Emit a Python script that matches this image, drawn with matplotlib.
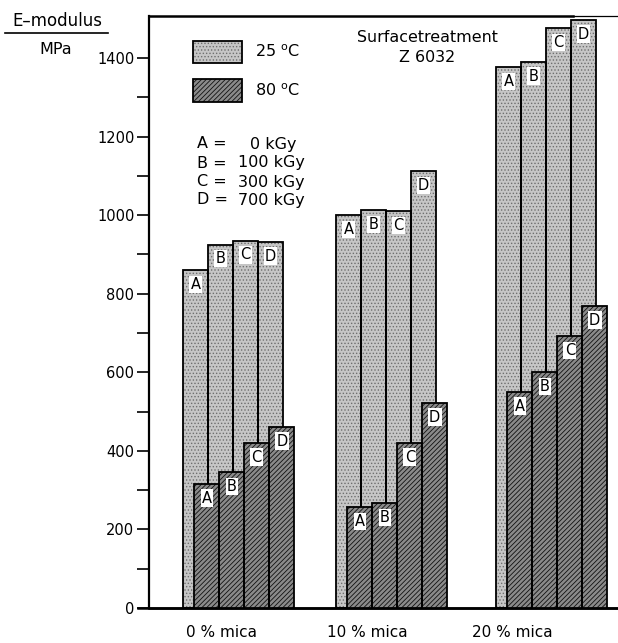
import matplotlib
matplotlib.use("Agg")
import matplotlib.pyplot as plt
from matplotlib.patches import Rectangle
from matplotlib.lines import Line2D

plt.rcParams['font.family'] = ['DejaVu Sans']
plt.rcParams['hatch.linewidth'] = 0.6

# ---- data ----
categories = ["0 % mica", "10 % mica", "20 % mica"]
doses = ["A", "B", "C", "D"]
dose_names = ["A =", "B =", "C =", "D ="]
dose_values = ["0 kGy", "100 kGy", "300 kGy", "700 kGy"]
e25 = [[860, 925, 935, 932],
       [1000, 1012, 1010, 1112],
       [1377, 1390, 1476, 1497]]
e80 = [[316, 346, 420, 461],
       [257, 267, 420, 522],
       [550, 600, 692, 769]]
yticks_major = [0, 200, 400, 600, 800, 1000, 1200, 1400]

W, H = 618, 643
fig = plt.figure(figsize=(W / 100, H / 100), dpi=100)
ax = fig.add_axes([149 / W, 35 / H, 469 / W, 592 / H])
ax.set_xlim(0, 18.76)
ax.set_ylim(0, 1507)

STIP_FACE, STIP_HATCH = '#c6c6c6', '#6e6e6e'
DARK_FACE, DARK_HATCH = '#8a8a8a', '#111111'

group_start = [1.36, 7.48, 13.88]
off80 = 0.45
bw = 1.0


def styled_bars(x, h, face, hcol, hatch, z):
    ax.bar(x, h, width=bw, align='edge', color=face, edgecolor=hcol,
           hatch=hatch, linewidth=0, zorder=z)
    ax.bar(x, h, width=bw, align='edge', fill=False, edgecolor='black',
           linewidth=1.3, zorder=z + 0.1)


for g in range(3):
    x25 = [group_start[g] + i * bw for i in range(4)]
    x80 = [group_start[g] + off80 + i * bw for i in range(4)]
    styled_bars(x25, e25[g], STIP_FACE, STIP_HATCH, '.....', 2)
    styled_bars(x80, e80[g], DARK_FACE, DARK_HATCH, '///////', 4)
    for i, d in enumerate(doses):
        ax.text(x25[i] + bw / 2, e25[g][i] - 36, d, ha='center', va='center',
                fontsize=10.5, zorder=3,
                bbox=dict(boxstyle='square,pad=0.08', fc='white', ec='none'))
        ax.text(x80[i] + bw / 2, e80[g][i] - 36, d, ha='center', va='center',
                fontsize=10.5, zorder=5,
                bbox=dict(boxstyle='square,pad=0.08', fc='white', ec='none'))

# category labels under the groups
cat_x = [2.88, 8.72, 14.52]
for cx, lab in zip(cat_x, categories):
    ax.text(cx, -0.042, lab, transform=ax.get_xaxis_transform(),
            ha='center', va='center', fontsize=11)

# axes styling
ax.set_xticks([])
ax.set_yticks(yticks_major)
ax.set_yticks(range(100, 1500, 200), minor=True)
ax.tick_params(axis='y', which='both', direction='out', length=8.5, width=1.2,
               pad=2, labelsize=10.5)
ax.spines['right'].set_visible(False)
ax.spines['top'].set_visible(False)
ax.spines['left'].set_linewidth(1.6)
ax.spines['bottom'].set_linewidth(1.8)
ax.add_line(Line2D([-0.023, 1.0], [0, 0], transform=ax.transAxes,
                   color='black', lw=1.8, clip_on=False))
ax.add_line(Line2D([0, 0.904], [1, 1], transform=ax.transAxes,
                   color='black', lw=1.8, clip_on=False))
ax.add_line(Line2D([0.904, 1.0], [1, 1], transform=ax.transAxes,
                   color='black', lw=0.9, clip_on=False))


def ax_xy(px, py):
    return (px - 149) / 469, (608 - py) / 592


# legend boxes
for (py0, py1), face, hcol, hatch, lab in [((41, 63), STIP_FACE, STIP_HATCH, '.....', "25 $^{\\rm o}$C"),
                                           ((79, 102), DARK_FACE, DARK_HATCH, '///////', "80 $^{\\rm o}$C")]:
    x0, y0 = ax_xy(193, py1)
    x1, y1 = ax_xy(242, py0)
    ax.add_patch(Rectangle((x0, y0), x1 - x0, y1 - y0, transform=ax.transAxes,
                           facecolor=face, edgecolor=hcol, hatch=hatch,
                           linewidth=0, clip_on=False, zorder=6))
    ax.add_patch(Rectangle((x0, y0), x1 - x0, y1 - y0, transform=ax.transAxes,
                           fill=False, edgecolor='black', linewidth=1.3,
                           clip_on=False, zorder=6.1))
    tx, ty = ax_xy(255, (py0 + py1) / 2)
    ax.text(tx, ty, lab, transform=ax.transAxes, ha='left', va='center',
            fontsize=11.5)

row_y = [144, 163, 182, 200]
val_x = [250, 238, 238, 238]
for k in range(4):
    tx, ty = ax_xy(197, row_y[k])
    ax.text(tx, ty, dose_names[k], transform=ax.transAxes, ha='left',
            va='center', fontsize=11.5)
    tx, ty = ax_xy(val_x[k], row_y[k])
    ax.text(tx, ty, dose_values[k], transform=ax.transAxes, ha='left',
            va='center', fontsize=11.5)

tx, ty = ax_xy(427, 37)
ax.text(tx, ty, "Surfacetreatment", transform=ax.transAxes,
        ha='center', va='center', fontsize=11.4)
tx, ty = ax_xy(427, 57)
ax.text(tx, ty, "Z 6032", transform=ax.transAxes,
        ha='center', va='center', fontsize=11.4)

# y-axis label
fig.text(57 / W, 1 - 21 / H, "E\u2013modulus", ha='center', va='center',
         fontsize=12)
fig.add_artist(Line2D([5 / W, 108 / W], [1 - 33 / H, 1 - 33 / H],
                      color='black', lw=1.2))
fig.text(56 / W, 1 - 50 / H, "MPa", ha='center', va='center', fontsize=11.5)

fig.savefig("out.png", dpi=100)
